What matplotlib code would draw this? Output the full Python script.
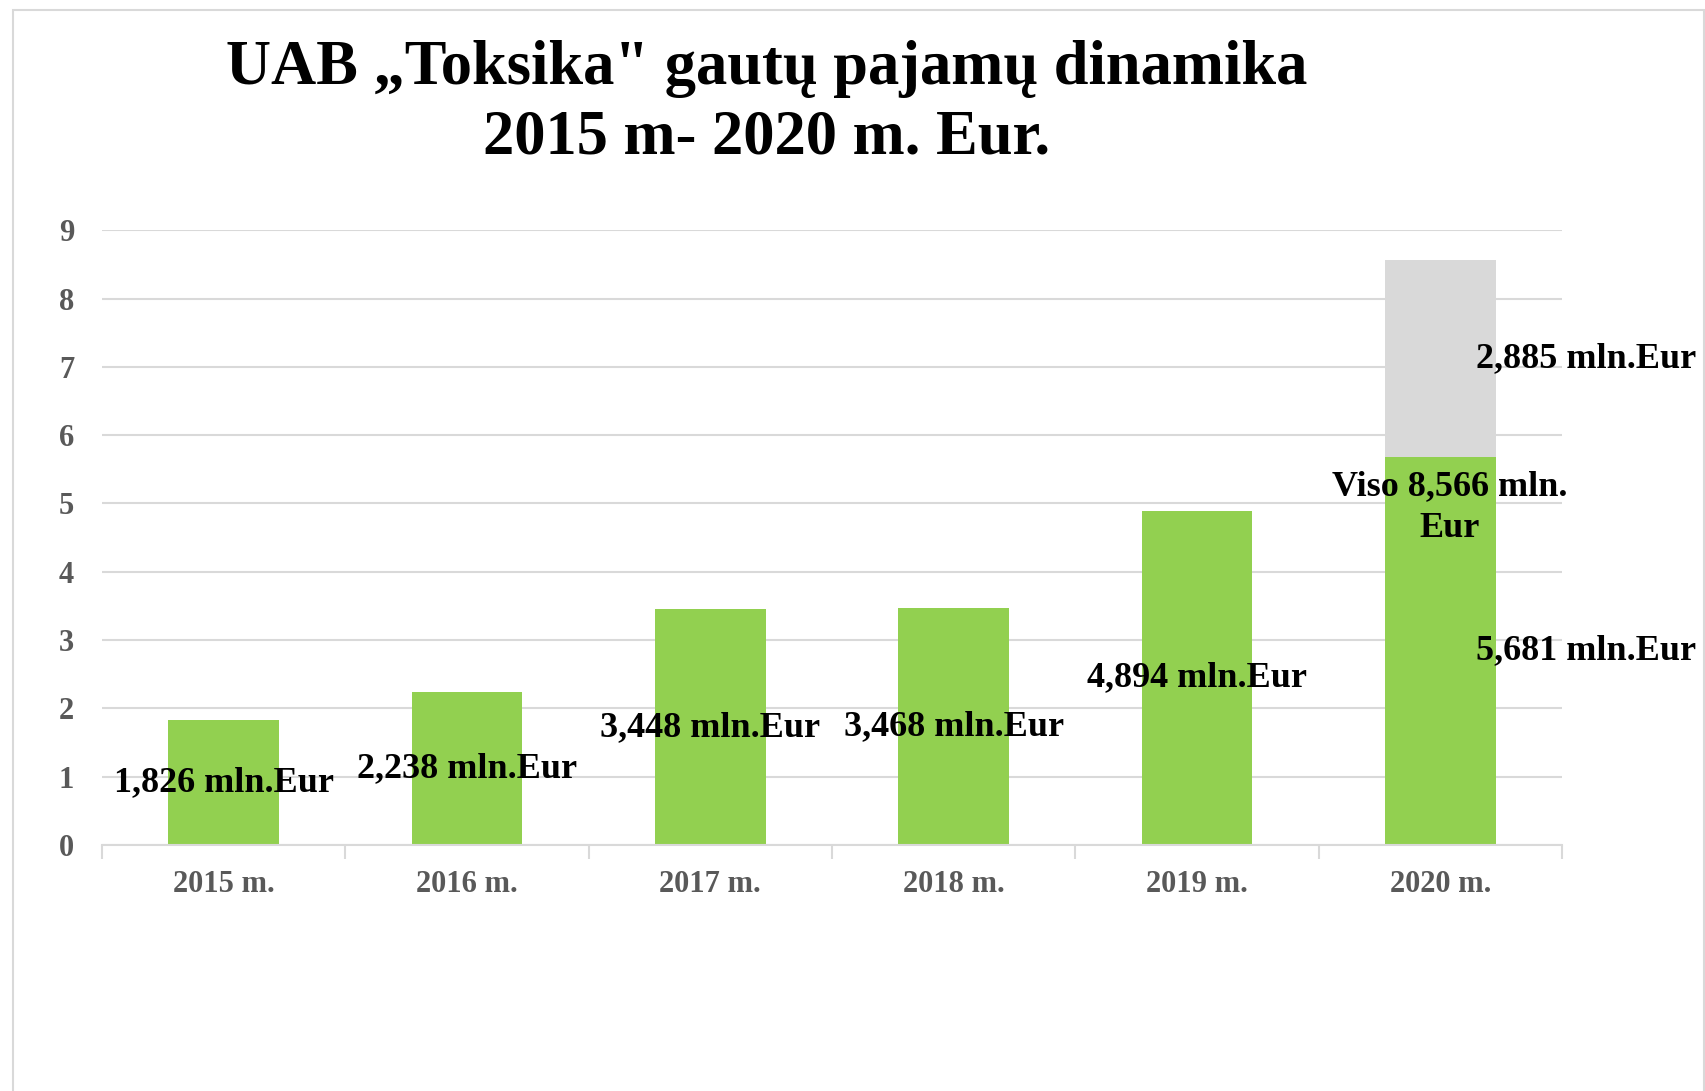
import matplotlib.pyplot as plt
from matplotlib.patches import Rectangle
import numpy as np

# Data
years = ['2015 m.', '2016 m.', '2017 m.', '2018 m.', '2019 m.', '2020 m.']
revenue = [1.826, 2.238, 3.448, 3.468, 4.894, 5.681]
extra_2020 = [0, 0, 0, 0, 0, 2.885]
total_2020 = 8.566

green = '#92D050'
grey = '#D9D9D9'
font = 'Liberation Serif'

fig = plt.figure(figsize=(17.06, 10.91), dpi=100)
fig.patches.append(Rectangle((0.0076, -0.02), 0.9912, 1.0108, transform=fig.transFigure,
                             fill=False, edgecolor=grey, lw=1.5))
ax = fig.add_axes([0.0598, 0.2255, 0.8558, 0.5635])

x = np.arange(len(years))
ax.bar(x, revenue, width=0.455, color=green, zorder=2)
ax.bar(x, extra_2020, bottom=revenue, width=0.455, color=grey, zorder=2)

ax.set_xlim(-0.5, 5.5)
ax.set_ylim(0, 9)
ax.set_yticks(range(10))
ax.grid(axis='y', color=grey, lw=1.5, zorder=0)
ax.set_axisbelow(True)
for s in ['left', 'right', 'top']:
    ax.spines[s].set_visible(False)
ax.spines['bottom'].set_color(grey)
ax.spines['bottom'].set_linewidth(1.5)

ax.set_xticks(x)
ax.set_xticklabels(years)
ax.set_xticks(np.arange(-0.5, 6.0, 1.0), minor=True)
ax.tick_params(axis='x', which='major', length=0, pad=18)
ax.tick_params(axis='x', which='minor', length=10, width=1.5, color=grey, direction='out')
ax.tick_params(axis='y', length=0, pad=20)
for lab in ax.get_xticklabels() + ax.get_yticklabels():
    lab.set_fontfamily(font)
    lab.set_fontweight('bold')
    lab.set_fontsize(22)
    lab.set_color('#595959')

# value labels
lab_kw = dict(fontfamily=font, fontweight='bold', fontsize=26, color='black',
              ha='center', va='center', zorder=3)
for i, v in enumerate(revenue):
    dx = 0.6 if i == len(years) - 1 else 0
    ax.text(i + dx, v / 2, f'{v:.3f}'.replace('.', ',') + ' mln.Eur', **lab_kw)
ax.text(5 + 0.6, revenue[5] + extra_2020[5] / 2,
        f'{extra_2020[5]:.3f}'.replace('.', ',') + ' mln.Eur', **lab_kw)
ax.text(5.04, 4.94, 'Viso ' + f'{total_2020:.3f}'.replace('.', ',') + ' mln.\nEur',
        linespacing=1.35, **lab_kw)

fig.text(0.4496, 0.905, 'UAB \u201eToksika" gautų pajamų dinamika\n2015 m- 2020 m. Eur.',
         ha='center', va='center', fontfamily=font, fontweight='bold', fontsize=45,
         linespacing=1.26)

fig.savefig('out.png', dpi=100)
